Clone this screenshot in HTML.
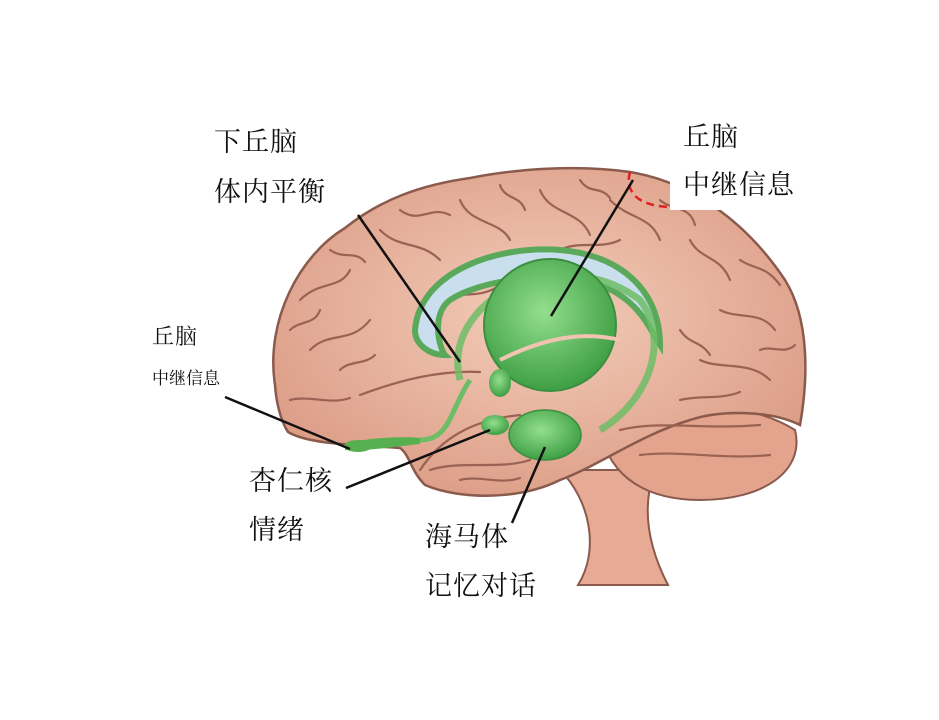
<!DOCTYPE html>
<html><head><meta charset="utf-8"><style>
html,body{margin:0;padding:0;background:#fff;}
.wrap{position:relative;width:939px;height:720px;overflow:hidden;background:#fff;font-family:"Liberation Serif","Noto Serif CJK SC",serif;}
.t{position:absolute;color:#111;font-size:27px;line-height:1;letter-spacing:1px;}
svg{position:absolute;left:0;top:0;}
</style></head><body><div class="wrap">
<svg width="939" height="720" viewBox="0 0 939 720">
<defs>
<radialGradient id="br" cx="50%" cy="45%" r="60%"><stop offset="0" stop-color="#f3cdb9"/><stop offset="1" stop-color="#dc9c86"/></radialGradient>
<radialGradient id="gr" cx="45%" cy="40%" r="60%"><stop offset="0" stop-color="#93df8d"/><stop offset="1" stop-color="#3f9f45"/></radialGradient>
</defs>
<!-- brainstem -->
<path d="M560,470 C590,500 600,550 578,585 L668,585 C650,550 640,510 655,470 Z" fill="#e7ab95" stroke="#8a5a4c" stroke-width="2"/>
<!-- cerebellum -->
<path d="M600,430 C640,400 740,395 795,430 C805,470 765,500 700,500 C650,500 610,480 600,430 Z" fill="#e4a38d" stroke="#8a5a4c" stroke-width="2"/>
<!-- cerebrum -->
<path d="M275,385 C265,320 300,255 345,228 C380,200 420,185 470,178 C520,168 580,165 630,172 C690,182 745,220 785,280 C810,320 808,380 800,425 C770,410 720,410 690,420 C640,435 600,465 560,480 C520,500 460,500 425,485 C410,470 410,455 400,448 C360,445 310,445 288,432 C280,420 276,400 275,385 Z" fill="url(#br)" stroke="#8a5a4c" stroke-width="2.5"/>
<!-- gyri lines -->
<g fill="none" stroke="#9a6252" stroke-width="2.2" stroke-linecap="round">
<path d="M300,300 C320,280 340,290 350,270"/><path d="M310,350 C330,330 350,345 370,320"/>
<path d="M290,330 C300,320 315,325 320,310"/><path d="M330,250 C345,260 355,250 365,262"/>
<path d="M380,230 C400,250 420,240 440,260"/><path d="M460,200 C470,225 500,220 510,240"/>
<path d="M540,190 C550,215 580,210 590,235"/><path d="M610,200 C630,220 650,215 660,240"/>
<path d="M690,240 C700,260 720,255 730,280"/><path d="M720,310 C740,320 760,310 775,330"/>
<path d="M700,360 C720,370 750,360 770,380"/><path d="M680,400 C700,395 720,400 740,392"/>
<path d="M430,470 C460,460 500,470 530,460"/><path d="M290,400 C310,395 330,405 350,398"/>
<path d="M440,300 C460,290 480,300 500,285"/><path d="M560,250 C580,240 600,250 620,240"/>
<path d="M620,430 C660,420 700,430 760,425"/><path d="M640,455 C680,450 720,460 770,455"/>
<path d="M420,470 C440,440 470,420 520,415"/>
<path d="M360,395 C400,380 440,370 480,372"/>
<path d="M400,210 C420,225 430,205 450,215"/><path d="M500,185 C505,200 520,195 525,210"/>
<path d="M580,180 C590,195 600,185 610,198"/><path d="M660,200 C670,210 690,205 695,225"/>
<path d="M740,260 C755,270 765,265 780,285"/><path d="M760,350 C770,345 785,355 795,345"/>
<path d="M680,330 C690,345 700,340 710,355"/><path d="M340,370 C350,360 365,365 375,355"/>
<path d="M460,480 C480,475 500,485 520,478"/>
</g>
<!-- ventricle blue -->
<path d="M415,330 C420,270 500,245 560,250 C620,255 660,290 660,345 C650,330 640,300 600,285 C550,270 480,280 450,300 C430,315 440,350 445,355 C430,355 415,345 415,330 Z" fill="#c9dfee" stroke="#5aa85a" stroke-width="6"/>
<!-- fornix arc -->
<path d="M460,380 C440,300 560,240 640,300 C670,340 650,400 600,430" fill="none" stroke="#6dbd66" stroke-width="7" opacity="0.85"/>
<path d="M470,380 C450,410 450,440 420,440" fill="none" stroke="#6dbd66" stroke-width="5"/>
<!-- thalamus -->
<ellipse cx="550" cy="325" rx="66" ry="66" fill="url(#gr)" stroke="#3b8f3f" stroke-width="2"/>
<path d="M500,360 C540,340 580,330 620,340" fill="none" stroke="#f0c4b0" stroke-width="4"/>
<!-- hypothalamus drop -->
<ellipse cx="500" cy="383" rx="11" ry="14" fill="url(#gr)"/>
<!-- hippocampus/amygdala -->
<ellipse cx="545" cy="435" rx="36" ry="25" fill="url(#gr)" stroke="#3b8f3f" stroke-width="1.5"/>
<ellipse cx="495" cy="425" rx="14" ry="10" fill="url(#gr)"/>
<!-- olfactory -->
<path d="M345,445 C360,438 400,436 420,438 L420,444 C400,446 360,452 345,450 Z" fill="#56b04f"/>
<ellipse cx="358" cy="446" rx="14" ry="6" fill="#56b04f"/>
<!-- white box top right -->
<rect x="670" y="118" width="140" height="92" fill="#fff"/>
<!-- red dashed -->
<path d="M630,172 C625,190 635,205 668,207" fill="none" stroke="#e02020" stroke-width="2.5" stroke-dasharray="8,5"/>
<!-- leader lines -->
<g stroke="#111" stroke-width="2.5">
<line x1="358" y1="215" x2="460" y2="362"/>
<line x1="633" y1="180" x2="551" y2="316"/>
<line x1="225" y1="397" x2="350" y2="449"/>
<line x1="346" y1="488" x2="490" y2="430"/>
<line x1="512" y1="523" x2="545" y2="447"/>
</g>
</svg>
<div class="t" style="left:214px;top:129px;">下丘脑</div>
<div class="t" style="left:214px;top:179px;">体内平衡</div>
<div class="t" style="left:683px;top:124px;">丘脑</div>
<div class="t" style="left:683px;top:172px;">中继信息</div>
<div class="t" style="left:152px;top:326px;font-size:22px;">丘脑</div>
<div class="t" style="left:152px;top:370px;font-size:17px;letter-spacing:0;">中继信息</div>
<div class="t" style="left:249px;top:468px;">杏仁核</div>
<div class="t" style="left:249px;top:517px;">情绪</div>
<div class="t" style="left:425px;top:524px;">海马体</div>
<div class="t" style="left:425px;top:573px;">记忆对话</div>
</div></body></html>
